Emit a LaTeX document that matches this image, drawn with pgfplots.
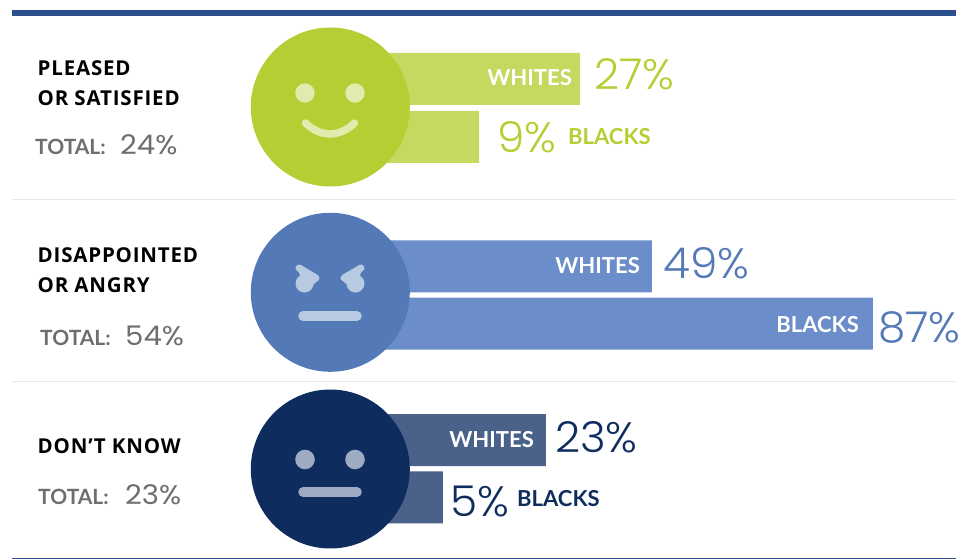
\documentclass[border=0pt]{standalone}
\usepackage{fontspec}
\setmainfont[LetterSpace=4]{Open Sans}
\newfontfamily\numf[UprightFont=* Light,FakeStretch=1.03]{Poppins}
\newfontfamily\totf[FakeStretch=1.08]{Poppins}
\newfontfamily\catf{Lato}
\usepackage{pgfplots}
\pgfplotsset{compat=1.18}
\definecolor{gA}{HTML}{B5CE33}\definecolor{gB}{HTML}{C4D960}\definecolor{gC}{HTML}{E1EBAE}
\definecolor{bA}{HTML}{5379B6}\definecolor{bB}{HTML}{6B8DC9}\definecolor{bC}{HTML}{B8C9E2}
\definecolor{nA}{HTML}{0E2C5E}\definecolor{nB}{HTML}{4A6189}\definecolor{nC}{HTML}{9FABC3}
\definecolor{rule}{HTML}{2B5090}\definecolor{divi}{HTML}{E6E6E6}\definecolor{grey}{HTML}{6E6E6E}
\pgfplotsset{
 barax/.style={scale only axis,width=631pt,height=559pt,at={(330pt,0pt)},anchor=south west,
   hide axis,xmin=0,ymin=0,ymax=559,y dir=reverse,clip=true},
 onebar/.style={xbar,bar shift=0pt,bar width=52,draw=none,forget plot}
}
\newcommand{\lab}[3]{\node[anchor=base west,inner sep=0pt,font=\fontsize{20.5}{20.5}\selectfont\bfseries,text=black] at (axis cs:#1,#2) {#3};}
\newcommand{\tot}[5]{\node[anchor=base west,inner sep=0pt,font=\fontsize{21}{21}\selectfont\bfseries\catf,text=grey] at (axis cs:#1,#3) {TOTAL:};
  \node[anchor=base west,inner sep=0pt,font=\fontsize{27}{27}\selectfont\totf,text=grey] at (axis cs:#2,#3) {#4};}
\newcommand{\val}[4]{\node[anchor=base west,inner sep=0pt,font=\fontsize{42.5}{42.5}\selectfont\numf,text=#4] at (axis cs:#1,#2) {#3};}
\newcommand{\catw}[3]{\node[anchor=base east,inner sep=0pt,font=\fontsize{22}{22}\selectfont\bfseries\catf,text=white] at (axis cs:#1,#2) {#3};}
\newcommand{\catl}[4]{\node[anchor=base west,inner sep=0pt,font=\fontsize{22}{22}\selectfont\bfseries\catf,text=#4] at (axis cs:#1,#2) {#3};}
\begin{document}
\begin{tikzpicture}[x=1pt,y=1pt]
\useasboundingbox (0pt,0pt) rectangle (961pt,559pt);
% Pleased or satisfied: x offset places 0% on the shared scale
\begin{axis}[barax,xmax=112.46]
\addplot[onebar,fill=gB] table[x expr=\thisrow{pct}+17.57,y=y] {
pct y
27 79
9 137
};
\end{axis}
% Disappointed or angry
\begin{axis}[barax,xmax=108.5]
\addplot[onebar,fill=bB] table[x expr=\thisrow{pct}+6.36,y=y] {
pct y
49 266.5
87 323.7
};
\end{axis}
% Don't know
\begin{axis}[barax,xmax=110.3]
\addplot[onebar,fill=nB] table[x expr=\thisrow{pct}+14.75,y=y] {
pct y
23 440
5 497.3
};
\end{axis}
\begin{axis}[scale only axis,width=961pt,height=559pt,at={(0pt,0pt)},anchor=south west,hide axis,
  xmin=0,xmax=961,ymin=0,ymax=559,y dir=reverse,clip=false]
% rules
\fill[rule] (axis cs:12,10) rectangle (axis cs:956,16);
\fill[divi] (axis cs:12,198.5) rectangle (axis cs:955,199.8);
\fill[divi] (axis cs:12,380.5) rectangle (axis cs:955,381.8);
\fill[rule] (axis cs:12,557.5) rectangle (axis cs:956,559);
% faces
\fill[gA] (axis cs:330.3,107) circle[radius=79.5];
\fill[gC] (axis cs:305,93) circle[radius=9.7];
\fill[gC] (axis cs:355,93) circle[radius=9.7];
\draw[gC,line width=7.5pt,line cap=round] (axis cs:305.5,123) .. controls (axis cs:320,137.5) and (axis cs:340,137.5) .. (axis cs:354.5,123);
\fill[bA] (axis cs:330.3,292.3) circle[radius=79.5];
\fill[bC] (axis cs:304.5,283.5) circle[radius=9];
\fill[bC] (axis cs:355.5,283.5) circle[radius=9];
\draw[bC,line width=7pt,line cap=round] (axis cs:299,268) -- (axis cs:316,278);
\draw[bC,line width=7pt,line cap=round] (axis cs:361,268) -- (axis cs:344,278);
\fill[bC] (axis cs:298,270) -- (axis cs:319,279) -- (axis cs:306,292) -- cycle;
\fill[bC] (axis cs:362,270) -- (axis cs:341,279) -- (axis cs:354,292) -- cycle;
\draw[bC,line width=9.5pt,line cap=round] (axis cs:303,316) -- (axis cs:357,316);
\fill[nA] (axis cs:330.3,469) circle[radius=79.5];
\fill[nC] (axis cs:305,459.5) circle[radius=9.8];
\fill[nC] (axis cs:355,459.5) circle[radius=9.8];
\draw[nC,line width=9.5pt,line cap=round] (axis cs:303,492) -- (axis cs:357,492);
% left labels
\lab{37.5}{75.5}{PLEASED}
\lab{37.5}{105.5}{OR SATISFIED}
\tot{35}{120}{154}{24\%}{}
\lab{37.5}{262.5}{DISAPPOINTED}
\lab{37.5}{292.5}{OR ANGRY}
\tot{40}{125}{345}{54\%}{}
\lab{37.5}{453}{DON’T KNOW}
\tot{38}{125}{504}{23\%}{}
% values
\catw{572}{86}{WHITES}
\val{594}{90}{27\%}{gA}
\val{497}{153}{9\%}{gA}
\catl{568}{145}{BLACKS}{gA}
\catw{640}{273}{WHITES}
\val{663}{278}{49\%}{bA}
\catw{859}{332}{BLACKS}
\val{878}{342}{87\%}{bA}
\catw{534}{447}{WHITES}
\val{555}{452}{23\%}{nA}
\val{450}{516}{5\%}{nA}
\catl{517}{506}{BLACKS}{nA}
\end{axis}
\end{tikzpicture}
\end{document}
